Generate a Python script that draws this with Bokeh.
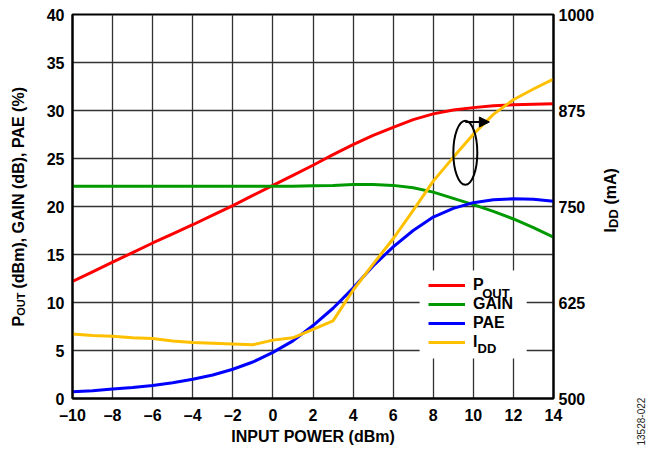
from bokeh.plotting import figure
from bokeh.layouts import row
from bokeh.models import (Range1d, LinearAxis, FixedTicker, Label, Legend,
                          LegendItem, Arrow, NormalHead, BoxAnnotation, Title)
from bokeh.embed import file_html
from bokeh.resources import INLINE

# ---------------- data ----------------
input_power = [-10, -9, -8, -7, -6, -5, -4, -3, -2, -1, 0, 1, 2, 3, 4, 5, 6, 7,
               8, 9, 10, 11, 12, 13, 14]
pout = [12.2, 13.2, 14.2, 15.2, 16.2, 17.15, 18.1, 19.1, 20.1, 21.15, 22.2,
        23.25, 24.3, 25.4, 26.45, 27.4, 28.25, 29.05, 29.65, 30.05, 30.3,
        30.5, 30.6, 30.65, 30.7]
gain = [22.1, 22.1, 22.1, 22.1, 22.1, 22.1, 22.1, 22.1, 22.1, 22.1, 22.1,
        22.1, 22.15, 22.2, 22.3, 22.3, 22.2, 21.95, 21.5, 20.85, 20.2, 19.5,
        18.7, 17.8, 16.8]
pae = [0.7, 0.8, 1.0, 1.15, 1.35, 1.65, 2.0, 2.45, 3.05, 3.8, 4.8, 6.0, 7.6,
       9.4, 11.5, 13.8, 15.8, 17.5, 18.9, 19.8, 20.4, 20.7, 20.8, 20.75, 20.55]
idd = [584, 582, 581, 579, 578, 575, 573, 572, 571, 570, 576, 579, 590, 601,
       641, 675, 708, 745, 783, 814, 844, 870, 889, 903, 916]

x_ticks = [-10, -8, -6, -4, -2, 0, 2, 4, 6, 8, 10, 12, 14]
left_ticks = [0, 5, 10, 15, 20, 25, 30, 35, 40]
right_ticks = [500, 625, 750, 875, 1000]

series_colors = {"pout": "#FF0000", "gain": "#009A00", "pae": "#0000FF",
                 "idd": "#FFC000"}

# annotation (ellipse + arrow pointing to the IDD axis)
ell_x, ell_y = 9.6, 25.6
arrow_y, arrow_tip_x = 28.8, 10.8

FONT = "Liberation Sans"
H = 450


def lab(fig, text, x, y, size, angle=0.0, style="bold", color="black"):
    fig.add_layout(Label(text=text, x=x, y=y, angle=angle, angle_units="deg",
                         text_font=FONT, text_font_style=style,
                         text_font_size=size, text_color=color,
                         text_align="left", text_baseline="alphabetic",
                         level="overlay"))


def blank_fig(w, x0, **kw):
    # frames of figures in a row are aligned with the main plot frame
    # (top border 14, bottom border 52) -> data y == 450 - page y
    f = figure(width=w, height=H, output_backend="svg", toolbar_location=None,
               x_range=Range1d(x0, x0 + w), y_range=Range1d(52, 436),
               x_axis_location=None, y_axis_location=None, min_border=0,
               min_border_top=14, min_border_bottom=52, **kw)
    f.grid.visible = False
    f.outline_line_color = None
    f.background_fill_color = "white"
    f.border_fill_color = "white"
    return f


# ---------------- main plot ----------------
p = figure(width=563, height=H, output_backend="svg", toolbar_location=None,
           x_range=Range1d(-10, 14), y_range=Range1d(0, 40),
           min_border_left=36, min_border_right=46, min_border_top=14,
           min_border_bottom=52)
p.background_fill_color = "white"
p.border_fill_color = "white"
p.outline_line_color = "black"
p.outline_line_width = 2

p.extra_y_ranges = {"idd": Range1d(500, 1000)}

p.xaxis.ticker = FixedTicker(ticks=x_ticks)
p.xaxis.major_label_overrides = {t: str(t).replace("-", "\u2013") for t in x_ticks}
p.yaxis.ticker = FixedTicker(ticks=left_ticks)
ax_r = LinearAxis(y_range_name="idd", ticker=FixedTicker(ticks=right_ticks))
p.add_layout(ax_r, "right")

for ax in [p.xaxis[0], p.yaxis[0], ax_r]:
    ax.major_tick_line_color = None
    ax.minor_tick_line_color = None
    ax.major_tick_out = 0
    ax.major_tick_in = 0
    ax.axis_line_color = "black"
    ax.axis_line_width = 2
    ax.major_label_text_font = FONT
    ax.major_label_text_font_style = "bold"
    ax.major_label_text_font_size = "16px"
    ax.major_label_text_color = "black"
p.yaxis[0].major_label_standoff = 8
ax_r.major_label_standoff = 5
p.xaxis[0].major_label_standoff = 8
p.xaxis[0].axis_label = "INPUT POWER (dBm)"
p.xaxis[0].axis_label_text_font = FONT
p.xaxis[0].axis_label_text_font_style = "bold"
p.xaxis[0].axis_label_text_font_size = "16px"
p.xaxis[0].axis_label_text_color = "black"
p.xaxis[0].axis_label_standoff = 1

p.xgrid.ticker = FixedTicker(ticks=x_ticks)
p.ygrid.ticker = FixedTicker(ticks=left_ticks)
for g in [p.xgrid[0], p.ygrid[0]]:
    g.grid_line_color = "#333333"
    g.grid_line_width = 1.3

r_pout = p.line(input_power, pout, line_color=series_colors["pout"], line_width=3)
r_gain = p.line(input_power, gain, line_color=series_colors["gain"], line_width=3)
r_pae = p.line(input_power, pae, line_color=series_colors["pae"], line_width=3)
r_idd = p.line(input_power, idd, line_color=series_colors["idd"], line_width=3,
               y_range_name="idd")

p.ellipse(x=[ell_x], y=[ell_y], width=24, height=64, width_units="screen",
          height_units="screen", fill_color=None, line_color="black",
          line_width=2)
p.add_layout(Arrow(end=NormalHead(size=10, fill_color="black",
                                  line_color="black"),
                   x_start=ell_x, y_start=arrow_y, x_end=arrow_tip_x,
                   y_end=arrow_y, line_color="black", line_width=2))

# white legend panel (drawn below the texts), legend itself is transparent
p.add_layout(BoxAnnotation(left=7.32, right=12.66, bottom=4.17, top=13.33,
                           fill_color="white", fill_alpha=1.0,
                           line_color=None, level="annotation"))

legend = Legend(items=[LegendItem(label="P", renderers=[r_pout]),
                       LegendItem(label="GAIN", renderers=[r_gain]),
                       LegendItem(label="PAE", renderers=[r_pae]),
                       LegendItem(label="I", renderers=[r_idd])],
                location=(356, 47), orientation="vertical")
legend.background_fill_alpha = 0.0
legend.border_line_color = None
legend.padding = 9
legend.margin = 0
legend.spacing = 1
legend.glyph_width = 37
legend.glyph_height = 16
legend.label_height = 16
legend.label_width = 44
legend.label_standoff = 8
legend.label_text_font = FONT
legend.label_text_font_style = "bold"
legend.label_text_font_size = "16px"
legend.label_text_color = "black"
p.add_layout(legend, "center")

# legend subscripts (data coordinates of the main plot)
lab(p, "OUT", 10.44, 10.93, "13px")
lab(p, "DD", 10.21, 5.17, "13px")

# ---------------- left title strip ----------------
left = blank_fig(36, 0)
lab(left, "P", 17.5, 124, "16px", angle=90)
lab(left, "OUT", 20.3, 134.7, "11px", angle=90)
lab(left, "(dBm), GAIN (dB), PAE (%)", 17.5, 162, "16px", angle=90)

# ---------------- right title strip ----------------
right = blank_fig(35, 599)
lab(right, "I", 609.5, 218, "16px", angle=90)
lab(right, "DD", 612.5, 222.6, "13px", angle=90)
lab(right, "(mA)", 609.5, 246, "16px", angle=90)

# ---------------- figure id strip ----------------
wm = blank_fig(16, 634)
wm.add_layout(Title(text="13528-022", align="left", offset=-47, standoff=0,
                    text_font=FONT, text_font_style="normal",
                    text_font_size="10px", text_color="#222222"), "left")

layout = row(left, p, right, wm, spacing=0)
open("out.html", "w").write(file_html(layout, INLINE))
